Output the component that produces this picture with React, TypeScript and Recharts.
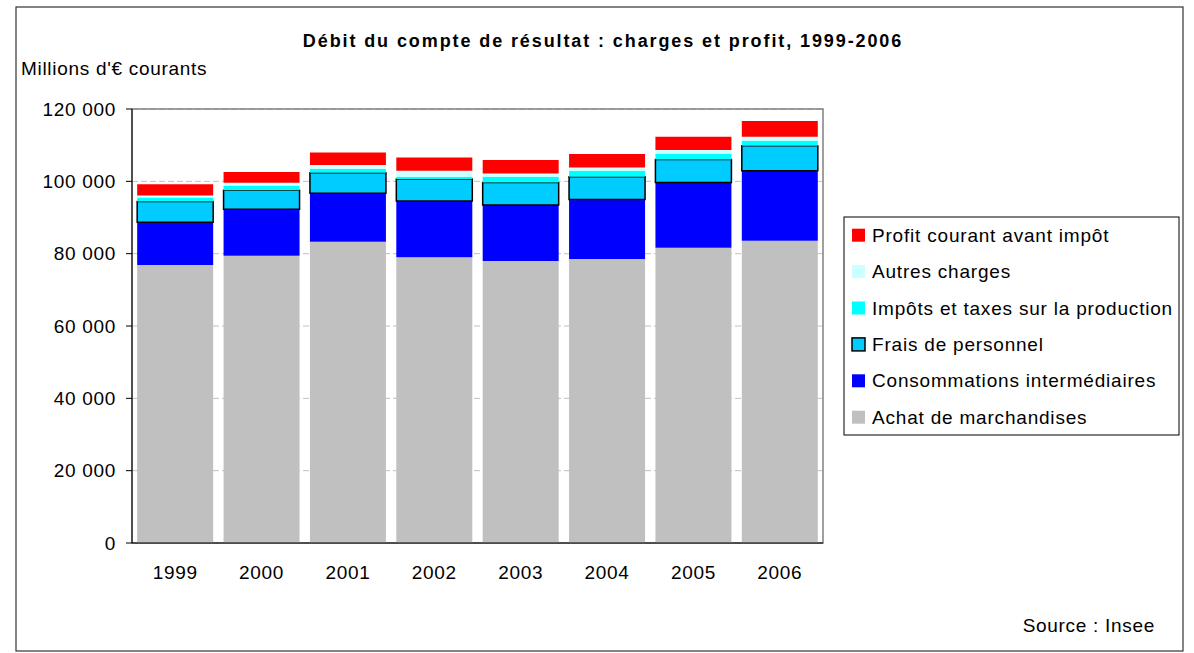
import { BarChart, Bar, XAxis, YAxis, CartesianGrid, ReferenceArea } from "recharts";

const years = ["1999", "2000", "2001", "2002", "2003", "2004", "2005", "2006"];
const achat = [76900, 79400, 83300, 79000, 78000, 78500, 81650, 83600];
const conso = [11800, 12900, 13400, 15550, 15450, 16500, 18050, 19350];
const frais = [5700, 5250, 5700, 6100, 6250, 6250, 6350, 6900];
const impots = [1100, 1250, 1000, 650, 1550, 1600, 1500, 1400];
const autres = [550, 800, 1100, 1600, 950, 1000, 1100, 1100];
const profit = [3150, 3000, 3500, 3700, 3700, 3700, 3700, 4350];
const yTicks = [0, 20000, 40000, 60000, 80000, 100000, 120000];

// bottom to top in the stack
const series = [
  { key: "achat", name: "Achat de marchandises", color: "#C0C0C0", values: achat, stroke: "none" },
  { key: "conso", name: "Consommations intermédiaires", color: "#0000FF", values: conso, stroke: "none" },
  { key: "frais", name: "Frais de personnel", color: "#00CCFF", values: frais, stroke: "#000" },
  { key: "impots", name: "Impôts et taxes sur la production", color: "#00FFFF", values: impots, stroke: "none" },
  { key: "autres", name: "Autres charges", color: "#CCFFFF", values: autres, stroke: "none" },
  { key: "profit", name: "Profit courant avant impôt", color: "#FF0000", values: profit, stroke: "none" },
];

const data = years.map((year, i) => {
  const row: Record<string, string | number> = { year };
  series.forEach((s) => {
    row[s.key] = s.values[i];
  });
  return row;
});

const font = "'Liberation Sans', Arial, sans-serif";
const fmt = (v: number) => String(v).replace(/\B(?=(\d{3})+(?!\d))/g, " ");

export default function App() {
  const legendItems = [...series].reverse();
  return (
    <div style={{ position: "absolute", left: 0, top: 0, width: 1194, height: 653, background: "#fff" }}>
      <BarChart
        width={1194}
        height={653}
        data={data}
        margin={{ top: 109, right: 371, bottom: 80, left: 22 }}
        barCategoryGap="6%"
        style={{ fontFamily: font }}
      >
        <rect x={16} y={7} width={1167} height={644} fill="none" stroke="#333" strokeWidth={1.2} />
        <CartesianGrid vertical={false} stroke="#c0c0c0" strokeDasharray="6 3" />
        <ReferenceArea y1={0} y2={120000} fill="none" stroke="#808080" strokeWidth={1.5} />
        <XAxis
          dataKey="year"
          height={30}
          tickLine={false}
          tickSize={0}
          tickMargin={23}
          axisLine={{ stroke: "#000" }}
          tick={{ fill: "#000", fontSize: 19, letterSpacing: 0.7 }}
        />
        <YAxis
          width={110}
          domain={[0, 120000]}
          ticks={yTicks}
          interval={0}
          tickFormatter={fmt}
          tickSize={6}
          tickMargin={10}
          axisLine={{ stroke: "#000" }}
          tickLine={{ stroke: "#000" }}
          tick={{ fill: "#000", fontSize: 19, letterSpacing: 0.7 }}
        />
        {series.map((s) => (
          <Bar
            key={s.key}
            dataKey={s.key}
            name={s.name}
            stackId="a"
            fill={s.color}
            stroke={s.stroke}
            strokeWidth={s.stroke === "none" ? 0 : 1.5}
            isAnimationActive={false}
          />
        ))}
        <text x={603} y={47} textAnchor="middle" fontSize={18} fontWeight="bold" letterSpacing={1.9} fill="#000">
          Débit du compte de résultat : charges et profit, 1999-2006
        </text>
        <text x={21} y={75} fontSize={19} letterSpacing={0.7} fill="#000">
          Millions d'€ courants
        </text>
        <text x={1155} y={632} textAnchor="end" fontSize={19} letterSpacing={0.7} fill="#000">
          Source : Insee
        </text>
        <rect x={844} y={217} width={335} height={218} fill="#fff" stroke="#000" strokeWidth={1} />
        {legendItems.map((s, i) => {
          const base = 241.7 + i * 36.4;
          return (
            <g key={s.key}>
              <rect
                x={852}
                y={base - 13}
                width={13}
                height={13}
                fill={s.color}
                stroke={s.stroke === "none" ? "none" : "#000"}
                strokeWidth={1.5}
              />
              <text x={872} y={base} fontSize={19} letterSpacing={0.8} fill="#000">
                {s.name}
              </text>
            </g>
          );
        })}
      </BarChart>
    </div>
  );
}
